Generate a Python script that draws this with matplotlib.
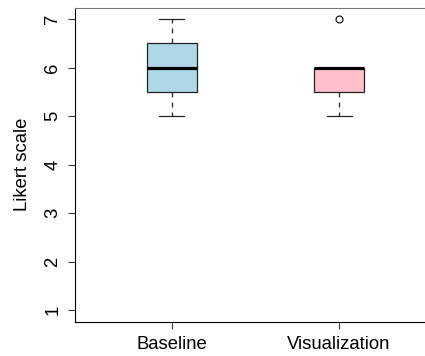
import matplotlib
matplotlib.use("Agg")
import matplotlib.pyplot as plt

plt.rcParams['font.family'] = ['Liberation Sans', 'DejaVu Sans']

categories = ["Baseline", "Visualization"]
whislo = [5, 5]
q1 = [5.5, 5.5]
medians = [6, 6]
q3 = [6.5, 6]
whishi = [7, 6]
fliers = [[], [7]]
colors = ["#ADD8E6", "#FFC0CB"]
yticks = [1, 2, 3, 4, 5, 6, 7]

fig = plt.figure(figsize=(4.25, 3.56), dpi=100)
ax = fig.add_axes([75/425, 34/356, 361/425, 314.5/356])

stats = []
for i, c in enumerate(categories):
    stats.append(dict(label=c, whislo=whislo[i], q1=q1[i], med=medians[i],
                      q3=q3[i], whishi=whishi[i], fliers=fliers[i]))

edge = "#222222"
bp = ax.bxp(stats, positions=[1, 2], widths=0.3, patch_artist=True,
            showfliers=True,
            boxprops=dict(edgecolor=edge, linewidth=0.9),
            medianprops=dict(color="black", linewidth=2.3, solid_capstyle='butt'),
            whiskerprops=dict(color=edge, linewidth=0.9, linestyle=(0, (4, 4))),
            capprops=dict(color=edge, linewidth=0.9),
            flierprops=dict(marker='o', markerfacecolor='none', markeredgecolor='black',
                            markersize=5, markeredgewidth=0.8),
            capwidths=0.15)
for patch, col in zip(bp['boxes'], colors):
    patch.set_facecolor(col)

ax.set_xlim(0.42, 2.58)
ax.set_ylim(0.76, 7.24)
ax.set_yticks(yticks)
ax.set_yticklabels([str(v) for v in yticks], rotation=90, va='center')
ax.set_xticks([1, 2])
ax.set_xticklabels(categories)
ax.tick_params(axis='both', labelsize=13.3, length=5, width=0.75, color="#333333")
ax.tick_params(axis='y', pad=4.8)
ax.tick_params(axis='x', pad=5)
ax.set_ylabel("Likert scale", fontsize=13.3, labelpad=9.5)
for s in ax.spines.values():
    s.set_linewidth(0.8)
    s.set_color("black")
ax.spines['top'].set_color("#777777")

fig.savefig("out.png", dpi=100)
